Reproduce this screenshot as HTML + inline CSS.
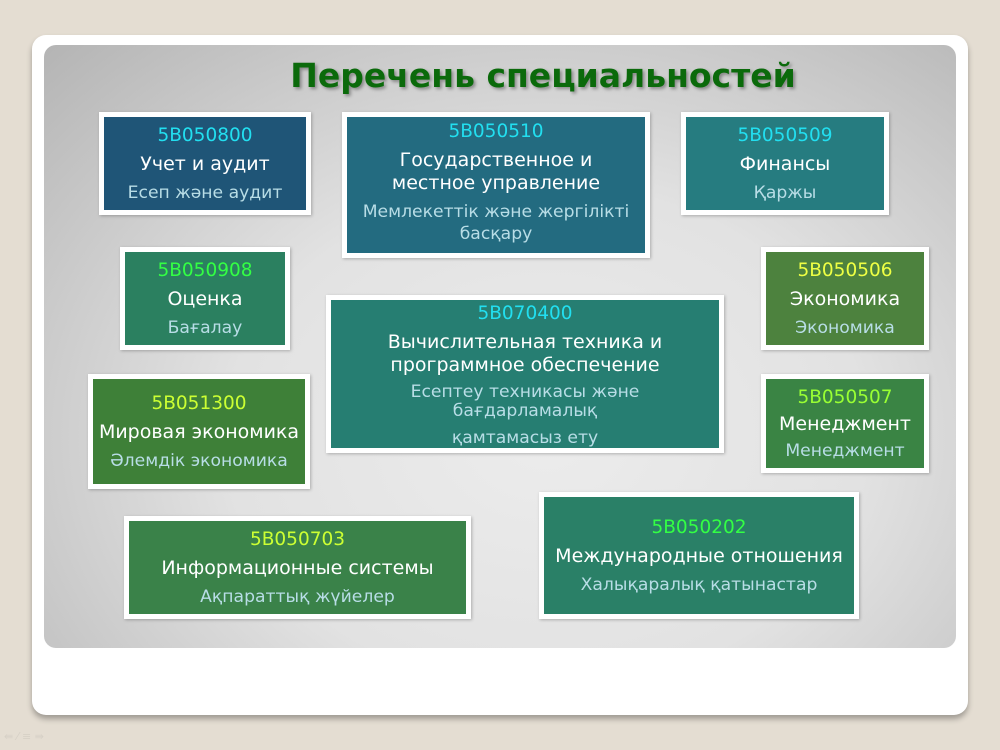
<!DOCTYPE html>
<html><head><meta charset="utf-8"><style>
body{margin:0;width:1000px;height:750px;background:#e4ddd2;position:relative;overflow:hidden;font-family:"DejaVu Sans","Liberation Sans",sans-serif}
.card{position:absolute;left:32px;top:35px;width:936px;height:680px;background:#fff;border-radius:14px;box-shadow:0 4px 6px rgba(0,0,0,.3)}
.panel{position:absolute;left:44px;top:45px;width:912px;height:603px;border-radius:12px;background:radial-gradient(ellipse at 55% 65%,#ececec 0%,#e2e2e2 45%,#b4b4b4 100%)}
h1{position:absolute;left:0;width:1000px;top:56px;margin:0;text-align:center;font-family:"Comic Sans MS","DejaVu Sans",sans-serif;font-weight:bold;font-size:33px;color:#0b6a0b;padding-left:86px;box-sizing:border-box;text-shadow:2px 2px 3px rgba(0,0,0,.35)}
.b{position:absolute;box-sizing:border-box;border:5px solid #fff;display:flex;flex-direction:column;justify-content:center;align-items:center;text-align:center;color:#fff;box-shadow:1px 1px 3px rgba(0,0,0,.25)}
.c{font-size:18.5px;line-height:24px}
.n{font-size:19px;line-height:23px;margin-top:5px}
.k{font-size:17.2px;line-height:22px;color:#b8dde6;margin-top:6px}
</style></head><body>
<div class="card"></div>
<div class="panel"></div>
<h1>Перечень специальностей</h1>

<div class="b" style="left:99px;top:112px;width:212px;height:103px;background:#1f5577"><div class="c" style="color:#22dff0">5B050800</div><div class="n">Учет и аудит</div><div class="k">Есеп және аудит</div></div>

<div class="b" style="left:342px;top:112px;width:308px;height:146px;background:#236b80;justify-content:flex-start;padding-top:3px"><div class="c" style="color:#22dff0">5B050510</div><div class="n">Государственное и<br>местное управление</div><div class="k">Мемлекеттік және жергілікті<br>басқару</div></div>

<div class="b" style="left:681px;top:112px;width:208px;height:103px;background:#267c80"><div class="c" style="color:#22dff0">5B050509</div><div class="n">Финансы</div><div class="k">Қаржы</div></div>

<div class="b" style="left:120px;top:247px;width:170px;height:103px;background:#2b8060"><div class="c" style="color:#33ff44">5B050908</div><div class="n">Оценка</div><div class="k">Бағалау</div></div>

<div class="b" style="left:761px;top:247px;width:168px;height:103px;background:#4d823e"><div class="c" style="color:#eeff44">5B050506</div><div class="n">Экономика</div><div class="k">Экономика</div></div>

<div class="b" style="left:326px;top:295px;width:398px;height:158px;background:#267e72;justify-content:flex-start;padding-top:2px"><div class="c" style="color:#22dff0">5B070400</div><div class="n">Вычислительная техника и<br>программное обеспечение</div><div class="k" style="line-height:19px">Есептеу техникасы және<br>бағдарламалық</div><div class="k">қамтамасыз ету</div></div>

<div class="b" style="left:88px;top:374px;width:222px;height:115px;background:#3e8038"><div class="c" style="color:#ccff33">5B051300</div><div class="n">Мировая экономика</div><div class="k">Әлемдік экономика</div></div>

<div class="b" style="left:761px;top:374px;width:168px;height:99px;background:#3a8444"><div class="c" style="color:#99ff33">5B050507</div><div class="n" style="margin-top:3px">Менеджмент</div><div class="k" style="margin-top:4px">Менеджмент</div></div>

<div class="b" style="left:124px;top:516px;width:347px;height:103px;background:#3a8249"><div class="c" style="color:#ccff33">5B050703</div><div class="n">Информационные системы</div><div class="k">Ақпараттық жүйелер</div></div>

<div class="b" style="left:539px;top:492px;width:320px;height:127px;background:#2a8067"><div class="c" style="color:#33ff44">5B050202</div><div class="n">Международные отношения</div><div class="k">Халықаралық қатынастар</div></div>

<div style="position:absolute;left:4px;top:730px;font-size:11px;color:#d6d0c6">⇚ ⁄ ≡ ⇛</div>
</body></html>
